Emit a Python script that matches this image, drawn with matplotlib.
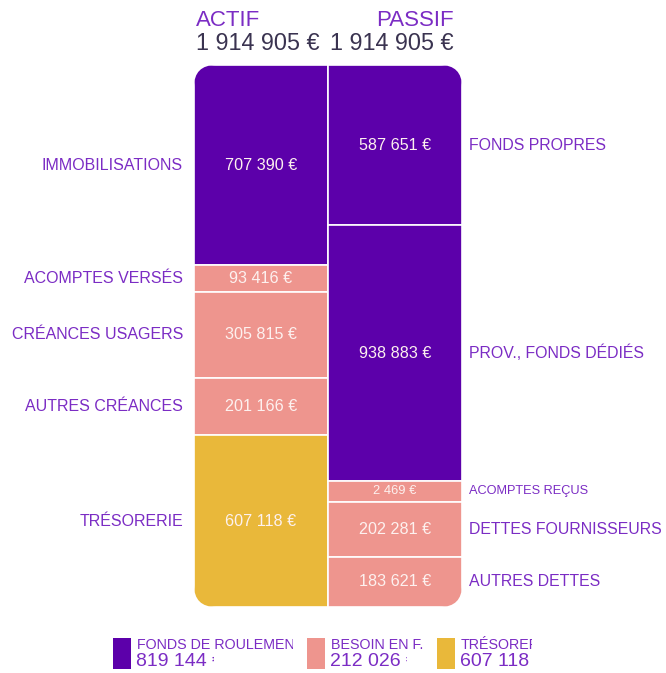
import matplotlib
matplotlib.use("Agg")
import matplotlib.pyplot as plt
import matplotlib.transforms as mtransforms
from matplotlib.patches import FancyBboxPatch, Rectangle

plt.rcParams['font.family'] = ['Liberation Sans', 'DejaVu Sans']

actif_labels = ["IMMOBILISATIONS", "ACOMPTES VERSÉS", "CRÉANCES USAGERS", "AUTRES CRÉANCES", "TRÉSORERIE"]
actif_values = [707390, 93416, 305815, 201166, 607118]
actif_kinds = ["fr", "bfr", "bfr", "bfr", "treso"]

passif_labels = ["FONDS PROPRES", "PROV., FONDS DÉDIÉS", "ACOMPTES REÇUS", "DETTES FOURNISSEURS", "AUTRES DETTES"]
passif_values = [587651, 938883, 2469, 202281, 183621]
passif_kinds = ["fr", "fr", "bfr", "bfr", "bfr"]

legend_names = ["FONDS DE ROULEMENT", "BESOIN EN F.", "TRÉSORERIE"]

colors = {"fr": "#5c00aa", "bfr": "#ee958e", "treso": "#e9b83a"}
label_color = "#7b2cc4"
total_color = "#3a3350"

W, H = 666, 673


def fmt(v):
    return f"{v:,}".replace(",", " ")


def display_heights(values, min_frac=0.038):
    # small segments get a minimum height, the rest share what is left
    total = sum(values)
    small = [v < min_frac * total for v in values]
    n_small = sum(small)
    rest = total - sum(v for v, s in zip(values, small) if s)
    room = total * (1 - min_frac * n_small)
    return [min_frac * total if s else v * room / rest for v, s in zip(values, small)]


fig = plt.figure(figsize=(W / 100, H / 100), dpi=100)

# box from x=194..462, y=65..607 (pixels, top-down)
ax = fig.add_axes([194 / W, (H - 607) / H, 268 / W, 542 / H])
total = sum(actif_values)
ax.set_xlim(-0.5, 1.5)
ax.set_ylim(total, 0)
ax.axis("off")

clip = FancyBboxPatch((0, 0), 1, 1, boxstyle="round,pad=0,rounding_size=%f" % (22 / 268),
                      mutation_aspect=268 / 542, transform=ax.transAxes,
                      facecolor="none", edgecolor="none")
ax.add_patch(clip)

left_tr = mtransforms.blended_transform_factory(ax.transAxes, ax.transData)

for col, (labels, values, kinds) in enumerate([(actif_labels, actif_values, actif_kinds),
                                               (passif_labels, passif_values, passif_kinds)]):
    heights = display_heights(values)
    bottom = 0
    for lab, v, h, k in zip(labels, values, heights, kinds):
        bars = ax.bar(col, h, bottom=bottom, width=1, color=colors[k],
                      edgecolor="white", linewidth=1.2, align="center")
        for b in bars:
            b.set_clip_path(clip)
        mid = bottom + h / 2
        small = h < 0.05 * total and v < 0.01 * total
        ax.text(col, mid, fmt(v) + " €", ha="center", va="center",
                color="#fdf1ef", fontsize=9.3 if small else 11.6)
        if col == 0:
            ax.text(-11 / 268, mid, lab, transform=left_tr, ha="right", va="center",
                    color=label_color, fontsize=11.5)
        else:
            ax.text(1 + 7 / 268, mid, lab, transform=left_tr, ha="left", va="center",
                    color=label_color, fontsize=9.2 if small else 11.4)
        bottom += h


def px(x, y):
    return x / W, 1 - y / H


# header
fig.text(*px(196, 20), "ACTIF", ha="left", va="center", color=label_color, fontsize=16)
fig.text(*px(454, 20), "PASSIF", ha="right", va="center", color=label_color, fontsize=16)
fig.text(*px(196, 44), fmt(sum(actif_values)) + " €", ha="left", va="center",
         color=total_color, fontsize=16.8)
fig.text(*px(454, 44), fmt(sum(passif_values)) + " €", ha="right", va="center",
         color=total_color, fontsize=16.8)

# legend values
fonds_roulement = passif_values[0] + passif_values[1] - actif_values[0]
bfr = sum(actif_values[1:4]) - sum(passif_values[2:])
treso = actif_values[4]
legend_values = [fonds_roulement, bfr, treso]
legend_colors = [colors["fr"], colors["bfr"], colors["treso"]]
legend_x = [113, 307, 437]
label_clip = [293, 425, 532]
value_clip = [214, 407, 532]

for name, val, c, x0, lc, vc in zip(legend_names, legend_values, legend_colors,
                                    legend_x, label_clip, value_clip):
    fig.patches.append(Rectangle(px(x0, 669), 18 / W, 31 / H, transform=fig.transFigure,
                                 facecolor=c, edgecolor="none"))
    t1 = fig.text(*px(x0 + 24, 645), name, ha="left", va="center",
                  color=label_color, fontsize=10.3)
    r1 = Rectangle(px(x0 + 22, 673), (lc - x0 - 22) / W, 48 / H,
                   transform=fig.transFigure)
    t1.set_clip_path(r1)
    t2 = fig.text(*px(x0 + 23, 662), fmt(val) + " €", ha="left", va="center",
                  color=label_color, fontsize=14)
    r2 = Rectangle(px(x0 + 22, 673), (vc - x0 - 22) / W, 48 / H,
                   transform=fig.transFigure)
    t2.set_clip_path(r2)

fig.savefig("out.png", dpi=100)
